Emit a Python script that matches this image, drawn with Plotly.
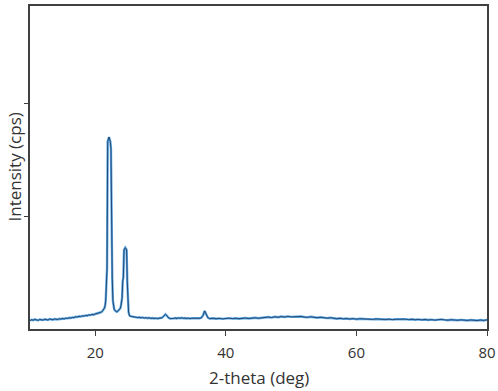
import numpy as np
import plotly.graph_objects as go

# 2-theta scan in segments (start, step, intensities)
seg_baseline_lo = [
    0.075, 0.082, 0.078, 0.085, 0.080, 0.077, 0.084, 0.081, 0.079, 0.086,
    0.083, 0.080, 0.088, 0.085, 0.082, 0.089, 0.086, 0.084, 0.091, 0.088,
    0.093, 0.090, 0.096, 0.094, 0.099, 0.097, 0.103, 0.101, 0.108, 0.106,
    0.112, 0.110, 0.116, 0.114, 0.120, 0.118, 0.124, 0.123, 0.129, 0.127,
    0.133, 0.136, 0.140, 0.146, 0.152,
]  # 10.0 .. 21.0, step 0.25
seg_peaks = [
    0.158, 0.165, 0.172, 0.185, 0.205, 0.250, 0.400, 0.530, 1.660, 1.700,
    1.700, 1.680, 1.660, 1.600, 0.530, 0.450, 0.250, 0.190, 0.175, 0.165,
    0.160, 0.155, 0.152, 0.155, 0.160, 0.165, 0.170, 0.180, 0.195, 0.220,
    0.270, 0.420, 0.460, 0.700, 0.720, 0.720, 0.710, 0.700, 0.420, 0.220,
    0.150, 0.125, 0.115,
]  # 21.1 .. 25.3, step 0.1
seg_mid = [
    0.112, 0.108, 0.104, 0.107, 0.101, 0.104, 0.099, 0.102, 0.097, 0.100,
    0.096, 0.099, 0.094, 0.097, 0.093, 0.096, 0.092, 0.095, 0.096, 0.100,
    0.115, 0.130, 0.115, 0.098, 0.092, 0.090, 0.094, 0.097, 0.093, 0.098,
    0.095, 0.099, 0.094, 0.097, 0.093, 0.096, 0.092, 0.095, 0.094, 0.097,
    0.093, 0.096, 0.095, 0.100, 0.120, 0.160, 0.130, 0.100, 0.092, 0.094,
]  # 25.5 .. 37.75, step 0.25
seg_high = [
    0.095, 0.091, 0.094, 0.090, 0.093, 0.096, 0.092, 0.095, 0.091, 0.094,
    0.097, 0.093, 0.096, 0.099, 0.095, 0.098, 0.102,
    0.106, 0.101, 0.108, 0.104, 0.110, 0.106, 0.112, 0.107, 0.109, 0.105,
    0.111, 0.106, 0.103, 0.108, 0.104, 0.100, 0.104, 0.099, 0.096, 0.100,
    0.094, 0.091, 0.095, 0.090, 0.093, 0.088, 0.092, 0.087, 0.091, 0.089,
    0.086, 0.090, 0.085, 0.089, 0.086, 0.088, 0.084, 0.087, 0.083, 0.086,
    0.088, 0.084, 0.087, 0.083, 0.086, 0.082, 0.085, 0.081, 0.084, 0.080,
    0.083, 0.079, 0.082, 0.085, 0.081, 0.078, 0.082, 0.079, 0.077, 0.081,
    0.078, 0.076, 0.080, 0.077, 0.075, 0.079, 0.076, 0.081,
]  # 38.0 .. 80.0, step 0.5


def grade(start, step, vals):
    return list(np.round(start + step * np.arange(len(vals)), 3))


theta = (
    grade(10.0, 0.25, seg_baseline_lo)
    + grade(21.1, 0.1, seg_peaks)
    + grade(25.5, 0.25, seg_mid)
    + grade(38.0, 0.5, seg_high)
)
intensity = seg_baseline_lo + seg_peaks + seg_mid + seg_high

x_ticks = [20, 40, 60, 80]
y_ticks = [1, 2]

fig = go.Figure()
fig.add_trace(go.Scatter(x=theta, y=intensity, mode="lines",
                         line=dict(color="#5fa8e0", width=2.4), hoverinfo="skip"))
fig.add_trace(go.Scatter(x=theta, y=intensity, mode="lines",
                         line=dict(color="#1b3d6b", width=0.9)))

fig.update_layout(
    width=498, height=391,
    margin=dict(l=30, r=11, t=6, b=62),
    plot_bgcolor="white", paper_bgcolor="white",
    showlegend=False,
    font=dict(family="Open Sans", size=15, color="#333333"),
)
fig.update_xaxes(
    range=[10, 80], tickvals=x_ticks, ticks="outside", ticklen=5,
    tickcolor="#404040", showgrid=False, zeroline=False, automargin=False,
    showline=True, linecolor="#404040", linewidth=1.5, mirror=True,
    ticklabelstandoff=4,
)
fig.update_yaxes(
    range=[0, 2.86], tickvals=y_ticks, showticklabels=False,
    ticks="outside", ticklen=4, tickcolor="#404040", automargin=False,
    showgrid=False, zeroline=False,
    showline=True, linecolor="#404040", linewidth=1.5, mirror=True,
)
fig.add_annotation(text="2-theta (deg)", xref="paper", yref="paper",
                   x=0.5, y=-0.151, yanchor="middle", showarrow=False,
                   font=dict(size=17))
fig.add_annotation(text="Intensity (cps)", xref="paper", yref="paper",
                   x=-0.035, y=0.5, xanchor="center", textangle=-90,
                   showarrow=False, font=dict(size=17))

# drop the page's default body margin so the figure sits at the corner
fig.write_html("out.html", config={"displayModeBar": False},
               post_script="document.body.style.margin='0';")
